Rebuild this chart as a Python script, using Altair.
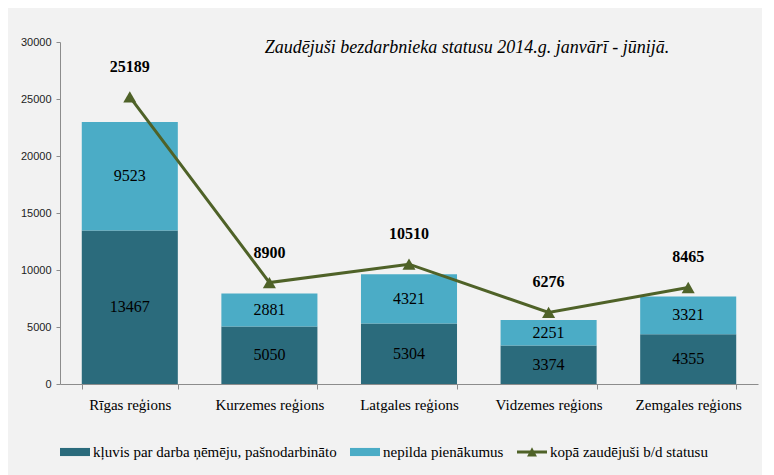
import altair as alt
import pandas as pd

regions = ["Rīgas reģions", "Kurzemes reģions", "Latgales reģions", "Vidzemes reģions", "Zemgales reģions"]
employed = [13467, 5050, 5304, 3374, 4355]
not_fulfilled = [9523, 2881, 4321, 2251, 3321]
totals = [25189, 8900, 10510, 6276, 8465]
series_names = ["kļuvis par darba ņēmēju, pašnodarbināto", "nepilda pienākumus", "kopā zaudējuši b/d statusu"]
colors = ["#2b6b7c", "#4bacc6", "#4f6228"]
title_text = "Zaudējuši bezdarbnieka statusu 2014.g. janvārī - jūnijā."
y_ticks = [0, 5000, 10000, 15000, 20000, 25000, 30000]

bars_df = pd.DataFrame({
    "region": regions * 2,
    "series": [series_names[0]] * 5 + [series_names[1]] * 5,
    "order": [0] * 5 + [1] * 5,
    "value": employed + not_fulfilled,
})
line_df = pd.DataFrame({"region": regions, "series": [series_names[2]] * 5, "value": totals})

serif = "'Liberation Serif', 'Times New Roman', serif"
xscale = alt.Scale(paddingInner=0.312, paddingOuter=0.156)
x_axis = alt.Axis(title=None, labelAngle=0, tickBand="extent", tickSize=5, labelPadding=8,
                  labelFont=serif, labelFontSize=15, labelColor="#000000",
                  domainColor="#8c8c8c", tickColor="#8c8c8c")
y_scale = alt.Scale(domain=[0, 30000], nice=False)
y_axis = alt.Axis(title=None, values=y_ticks, grid=False, tickSize=4, labelPadding=5,
                  labelFont="Liberation Sans", labelFontSize=11, labelColor="#222222",
                  domainColor="#8c8c8c", tickColor="#8c8c8c", format="d")

rect_path = "M-1,-0.27H1V0.27H-1Z"
line_path = "M-1,-0.1H1V0.1H-1Z M-0.33,0.3L0,-0.32L0.33,0.3Z"
shape_expr = f"datum.value === '{series_names[2]}' ? '{line_path}' : '{rect_path}'"
legend = alt.Legend(
    title=None, orient="none", legendX=0, legendY=395, direction="horizontal",
    symbolSize=900, labelFont=serif, labelFontSize=15, labelColor="#000000",
    labelOffset=3, columnPadding=13, labelLimit=500,
    symbolType=alt.ExprRef(expr=shape_expr),
    symbolFillColor=alt.ExprRef(expr="scale('color', datum.value)"),
    symbolStrokeWidth=0, symbolOpacity=1,
)
color = alt.Color("series:N", scale=alt.Scale(domain=series_names, range=colors), legend=legend)

X = alt.X("region:N", sort=regions, scale=xscale, axis=x_axis)

stacked = alt.Chart(bars_df).transform_stack(
    stack="value", groupby=["region"], as_=["y0", "y1"],
    sort=[alt.SortField("order", order="ascending")]
).transform_calculate(mid="(datum.y0 + datum.y1) / 2")

bars = stacked.mark_bar().encode(
    x=X, y=alt.Y("y0:Q", scale=y_scale, axis=y_axis), y2="y1:Q", color=color
)
seg_text = stacked.mark_text(font=serif, fontSize=16, color="#000000", baseline="middle").encode(
    x=X, y=alt.Y("mid:Q", scale=y_scale), text=alt.Text("value:Q", format="d")
)

base_line = alt.Chart(line_df).encode(x=X, y=alt.Y("value:Q", scale=y_scale))
line = base_line.mark_line(strokeWidth=3).encode(color=color)
points = base_line.mark_point(shape="triangle-up", filled=True, size=170, opacity=1).encode(color=color)
tot_text = base_line.mark_text(font=serif, fontSize=16, fontWeight="bold", dy=-30, color="#000000").encode(
    text=alt.Text("value:Q", format="d")
)

title = alt.Chart(pd.DataFrame({"t": [title_text]})).mark_text(
    font=serif, fontSize=18, fontStyle="italic", color="#000000", align="center", baseline="middle"
).encode(x=alt.value(407), y=alt.value(6), text="t:N")

chart = alt.layer(bars, seg_text, line, points, tot_text, title).properties(
    width=698, height=342,
    autosize=alt.AutoSizeParams(type="none"),
    padding={"left": 52, "top": 34, "right": 4, "bottom": 91},
    background="#f2f2f2",
).configure_view(stroke=None)

chart.save("out.html", embed_options={"renderer": "svg", "actions": False})
